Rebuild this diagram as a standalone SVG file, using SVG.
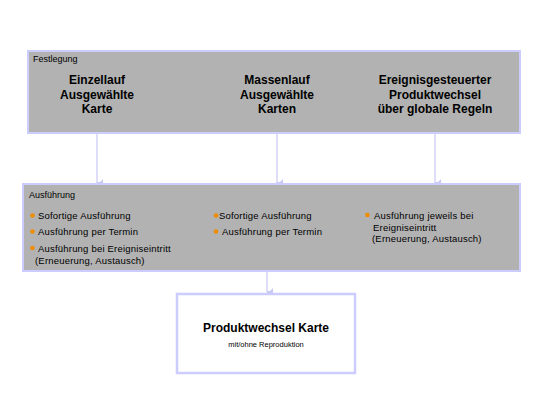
<svg xmlns="http://www.w3.org/2000/svg" width="552" height="414" viewBox="0 0 552 414">
<defs>
<marker id="ah" markerWidth="8" markerHeight="6" refX="4" refY="6" orient="auto-start-reverse" markerUnits="userSpaceOnUse" viewBox="0 0 8 6">
<path d="M0,0 L8,0 L5,3 L5,6 L3,6 L3,3 Z" fill="#c8c8f5"/>
</marker>
</defs>
<style>
.box{fill:#b2b2b2;stroke:#ccccff;stroke-width:2}
.wbox{fill:#ffffff;stroke:#ccccff;stroke-width:2.5}
.cap{font-family:"Liberation Sans",Arial,sans-serif;font-size:9px;fill:#000}
.hd{font-family:"Liberation Sans",Arial,sans-serif;font-size:12px;font-weight:bold;fill:#000;text-anchor:middle}
.it{font-family:"Liberation Sans",Arial,sans-serif;font-size:9.5px;letter-spacing:0.2px;fill:#000}
.sm{font-family:"Liberation Sans",Arial,sans-serif;font-size:7.5px;fill:#000;text-anchor:middle}
.bul{fill:#f08c00}
.con{stroke:#c8c8f5;stroke-width:1.2;fill:none}
</style>
<rect width="552" height="414" fill="#ffffff"/>
<g id="connectors">
<line class="con" x1="97" y1="134" x2="97" y2="183" marker-end="url(#ah)"/>
<line class="con" x1="277" y1="134" x2="277" y2="183" marker-end="url(#ah)"/>
<line class="con" x1="435" y1="134" x2="435" y2="183" marker-end="url(#ah)"/>
<line class="con" x1="267" y1="272" x2="267" y2="292" marker-end="url(#ah)"/>
</g>
<g id="festlegung">
<rect class="box" x="28" y="51" width="492" height="82"/>
<text class="cap" x="33" y="62">Festlegung</text>
<text class="hd" x="97" y="84">Einzellauf</text>
<text class="hd" x="97" y="99">Ausgewählte</text>
<text class="hd" x="97" y="113">Karte</text>
<text class="hd" x="277" y="84">Massenlauf</text>
<text class="hd" x="277" y="99">Ausgewählte</text>
<text class="hd" x="277" y="113">Karten</text>
<text class="hd" x="435" y="84">Ereignisgesteuerter</text>
<text class="hd" x="435" y="99">Produktwechsel</text>
<text class="hd" x="435" y="113">über globale Regeln</text>
</g>
<g id="ausfuehrung">
<rect class="box" x="23" y="184" width="497" height="87"/>
<text class="cap" x="29" y="198">Ausführung</text>
<circle class="bul" cx="32.5" cy="215.5" r="2.3"/>
<text class="it" x="38" y="219">Sofortige Ausführung</text>
<circle class="bul" cx="32.5" cy="231.5" r="2.3"/>
<text class="it" x="38" y="235">Ausführung per Termin</text>
<circle class="bul" cx="32.5" cy="248" r="2.3"/>
<text class="it" x="38" y="251.5">Ausführung bei Ereigniseintritt</text>
<text class="it" x="35" y="263.5">(Erneuerung, Austausch)</text>
<circle class="bul" cx="216" cy="215.5" r="2.3"/>
<text class="it" x="219" y="219">Sofortige Ausführung</text>
<circle class="bul" cx="216" cy="231.5" r="2.3"/>
<text class="it" x="222" y="235">Ausführung per Termin</text>
<circle class="bul" cx="367.5" cy="215" r="2.3"/>
<text class="it" x="374" y="218.5">Ausführung jeweils bei</text>
<text class="it" x="373" y="230.5">Ereigniseintritt</text>
<text class="it" x="372" y="242">(Erneuerung, Austausch)</text>
</g>
<g id="produktwechsel">
<rect class="wbox" x="177" y="294" width="178" height="79"/>
<text class="hd" x="266" y="332">Produktwechsel Karte</text>
<text class="sm" x="266" y="347">mit/ohne Reproduktion</text>
</g>
</svg>
